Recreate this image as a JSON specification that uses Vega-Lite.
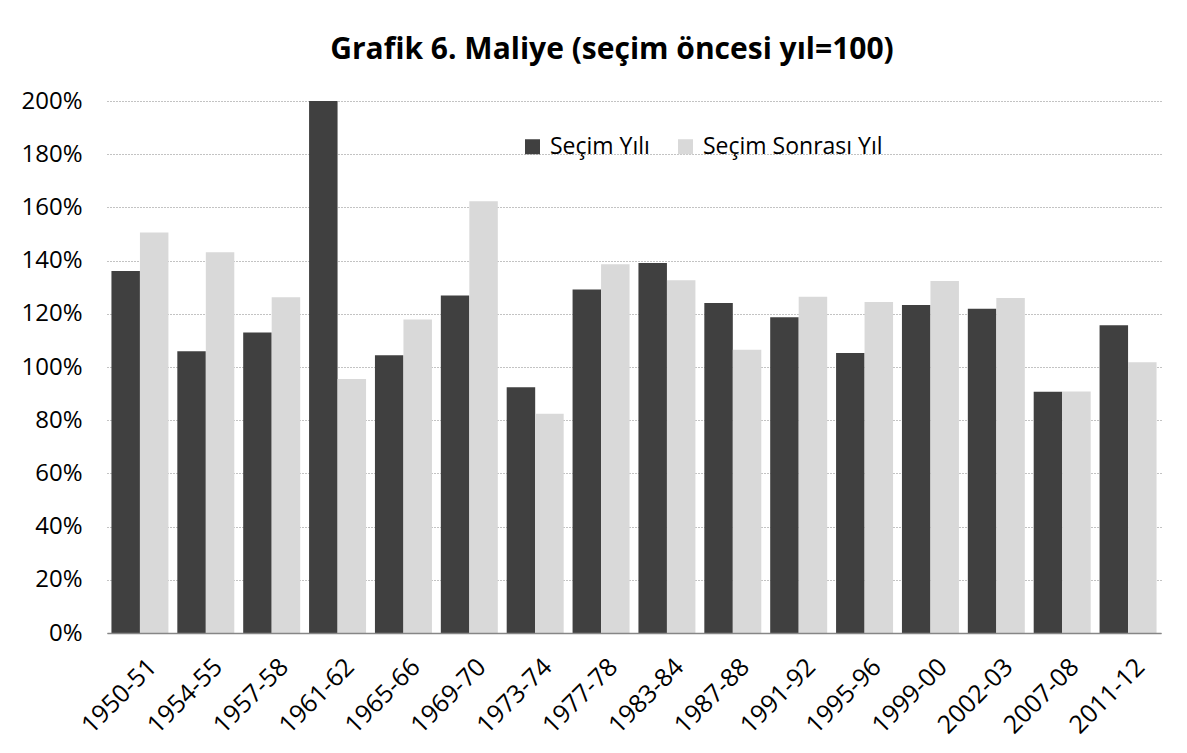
{
  "$schema": "https://vega.github.io/schema/vega-lite/v6.json",
  "autosize": "none",
  "padding": {"left": 107, "top": 101, "right": 26, "bottom": 120},
  "width": 1054,
  "height": 532,
  "background": "white",
  "title": {
    "text": "Grafik 6. Maliye (seçim öncesi yıl=100)",
    "anchor": "middle",
    "frame": "group",
    "dx": -22,
    "offset": 24,
    "font": "Open Sans",
    "fontSize": 30,
    "fontWeight": "bold",
    "color": "black"
  },
  "data": {
    "values": [
      {"donem": "1950-51", "seri": "Seçim Yılı", "deger": 1.361},
      {"donem": "1950-51", "seri": "Seçim Sonrası Yıl", "deger": 1.506},
      {"donem": "1954-55", "seri": "Seçim Yılı", "deger": 1.059},
      {"donem": "1954-55", "seri": "Seçim Sonrası Yıl", "deger": 1.431},
      {"donem": "1957-58", "seri": "Seçim Yılı", "deger": 1.130},
      {"donem": "1957-58", "seri": "Seçim Sonrası Yıl", "deger": 1.262},
      {"donem": "1961-62", "seri": "Seçim Yılı", "deger": 2.0},
      {"donem": "1961-62", "seri": "Seçim Sonrası Yıl", "deger": 0.955},
      {"donem": "1965-66", "seri": "Seçim Yılı", "deger": 1.044},
      {"donem": "1965-66", "seri": "Seçim Sonrası Yıl", "deger": 1.179},
      {"donem": "1969-70", "seri": "Seçim Yılı", "deger": 1.269},
      {"donem": "1969-70", "seri": "Seçim Sonrası Yıl", "deger": 1.623},
      {"donem": "1973-74", "seri": "Seçim Yılı", "deger": 0.924},
      {"donem": "1973-74", "seri": "Seçim Sonrası Yıl", "deger": 0.824},
      {"donem": "1977-78", "seri": "Seçim Yılı", "deger": 1.291},
      {"donem": "1977-78", "seri": "Seçim Sonrası Yıl", "deger": 1.386},
      {"donem": "1983-84", "seri": "Seçim Yılı", "deger": 1.391},
      {"donem": "1983-84", "seri": "Seçim Sonrası Yıl", "deger": 1.326},
      {"donem": "1987-88", "seri": "Seçim Yılı", "deger": 1.241},
      {"donem": "1987-88", "seri": "Seçim Sonrası Yıl", "deger": 1.065},
      {"donem": "1991-92", "seri": "Seçim Yılı", "deger": 1.187},
      {"donem": "1991-92", "seri": "Seçim Sonrası Yıl", "deger": 1.264},
      {"donem": "1995-96", "seri": "Seçim Yılı", "deger": 1.053},
      {"donem": "1995-96", "seri": "Seçim Sonrası Yıl", "deger": 1.244},
      {"donem": "1999-00", "seri": "Seçim Yılı", "deger": 1.233},
      {"donem": "1999-00", "seri": "Seçim Sonrası Yıl", "deger": 1.323},
      {"donem": "2002-03", "seri": "Seçim Yılı", "deger": 1.219},
      {"donem": "2002-03", "seri": "Seçim Sonrası Yıl", "deger": 1.259},
      {"donem": "2007-08", "seri": "Seçim Yılı", "deger": 0.907},
      {"donem": "2007-08", "seri": "Seçim Sonrası Yıl", "deger": 0.908},
      {"donem": "2011-12", "seri": "Seçim Yılı", "deger": 1.157},
      {"donem": "2011-12", "seri": "Seçim Sonrası Yıl", "deger": 1.018}
    ]
  },
  "mark": {"type": "bar"},
  "encoding": {
    "x": {
      "field": "donem",
      "type": "nominal",
      "sort": null,
      "title": null,
      "scale": {"paddingInner": 0.135, "paddingOuter": 0.0675},
      "axis": {
        "labelAngle": -45,
        "labelAlign": "right",
        "labelBaseline": "top",
        "labelPadding": 21,
        "labelOffset": 4,
        "labelFont": "Open Sans",
        "labelFontSize": 25,
        "labelColor": "black",
        "ticks": false,
        "domainColor": "#868686",
        "domainWidth": 1.5,
        "grid": false,
        "zindex": 1
      }
    },
    "xOffset": {
      "field": "seri",
      "type": "nominal",
      "sort": ["Seçim Yılı", "Seçim Sonrası Yıl"],
      "scale": {"paddingInner": 0, "paddingOuter": 0}
    },
    "y": {
      "field": "deger",
      "type": "quantitative",
      "title": null,
      "scale": {"domain": [0, 2], "nice": false},
      "axis": {
        "format": ".0%",
        "values": [0, 0.2, 0.4, 0.6, 0.8, 1.0, 1.2, 1.4, 1.6, 1.8, 2.0],
        "domain": false,
        "ticks": false,
        "grid": true,
        "gridColor": "#868686",
        "gridDash": [1, 2],
        "gridWidth": 1,
        "labelPadding": 25,
        "labelFont": "Open Sans",
        "labelFontSize": 24,
        "labelColor": "black"
      }
    },
    "color": {
      "field": "seri",
      "type": "nominal",
      "scale": {"domain": ["Seçim Yılı", "Seçim Sonrası Yıl"], "range": ["#404040", "#d9d9d9"]},
      "legend": {
        "title": null,
        "orient": "none",
        "legendX": 414,
        "legendY": 34,
        "direction": "horizontal",
        "symbolType": "square",
        "symbolSize": 225,
        "symbolStrokeWidth": 0,
        "labelFont": "Open Sans",
        "labelFontSize": 23,
        "labelColor": "black",
        "labelOffset": 6,
        "labelLimit": 400,
        "columnPadding": 24
      }
    }
  },
  "config": {
    "view": {"stroke": null}
  }
}
